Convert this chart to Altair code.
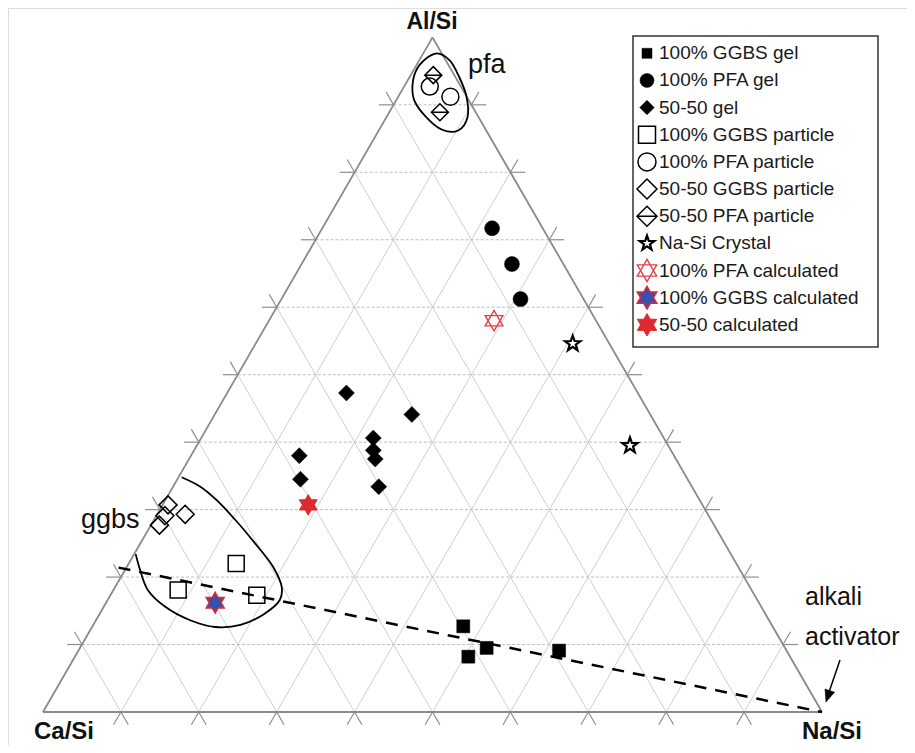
import altair as alt
import pandas as pd

# ---------------- data ----------------
# ternary composition in %: Al/Si (top apex), Na/Si (right apex); Ca/Si = 100 - Al - Na
labels = ["100% GGBS gel", "100% PFA gel", "50-50 gel", "100% GGBS particle",
          "100% PFA particle", "50-50 GGBS particle", "50-50 PFA particle",
          "Na-Si Crystal", "100% PFA calculated", "100% GGBS calculated", "50-50 calculated"]

ggbs_gel_al = [12.7, 8.2, 9.5, 9.1]
ggbs_gel_na = [47.6, 50.5, 52.2, 61.7]
pfa_gel_al = [71.7, 66.4, 61.2]
pfa_gel_na = [21.8, 27.0, 30.7]
mix_gel_al = [47.3, 44.1, 40.6, 38.8, 37.5, 38.0, 34.5, 33.4]
mix_gel_na = [15.3, 25.3, 22.1, 23.0, 23.9, 13.9, 15.8, 26.4]
ggbs_part_al = [22.0, 18.1, 17.3]
ggbs_part_na = [13.8, 8.3, 18.8]
pfa_part_al = [92.7, 91.2]
pfa_part_na = [3.3, 6.7]
mix_ggbs_part_al = [30.7, 29.3, 29.1, 27.7]
mix_ggbs_part_na = [0.7, 3.6, 1.1, 1.1]
mix_pfa_part_al = [94.4, 88.9]
mix_pfa_part_na = [2.9, 6.5]
nasi_al = [54.6, 39.5]
nasi_na = [40.7, 55.6]
pfa_calc_al = [58.0]
pfa_calc_na = [28.9]
ggbs_calc_al = [16.2]
ggbs_calc_na = [14.0]
mix_calc_al = [30.7]
mix_calc_na = [18.7]

# outline of the "pfa" region (closed) and the "ggbs" region (open)
pfa_loop_al = [97.6, 96.6, 94.2, 91.3, 88.2, 86.2, 86.3, 88.1, 90.7, 93.6, 96.0]
pfa_loop_na = [1.6, 3.9, 6.3, 8.7, 10.4, 10.2, 8.1, 5.2, 2.3, 0.7, 0.4]
ggbs_loop_al = [34.8, 33.4, 31.4, 28.2, 25.1, 21.5, 18.5, 16.6, 14.5, 12.9, 12.6, 13.6, 15.6, 18.1, 21.1, 23.4]
ggbs_loop_na = [0.4, 3.5, 6.6, 10.8, 14.6, 18.8, 21.4, 22.1, 21.1, 18.9, 15.8, 12.1, 7.9, 4.4, 1.9, 0.2]
# dashed alkali-activation line
act_al = [21.4, 0.0]
act_na = [-1.0, 100.0]

# ---------------- geometry / styling ----------------
SIDE = 779.0
W, H = 899, 737
X_MIN = -35 / SIDE
X_MAX = X_MIN + W / SIDE
Y_MAX = 704 / SIDE
Y_MIN = Y_MAX - H / SIDE
XS = alt.Scale(domain=[X_MIN, X_MAX], nice=False, zero=False)
YS = alt.Scale(domain=[Y_MIN, Y_MAX], nice=False, zero=False)
FONT = "Liberation Sans"

def xy(ch, al="al", na="na", X="X", Y="Y"):
    return ch.transform_calculate(**{
        X: f"(datum.{na} + datum.{al} / 2) / 100",
        Y: f"datum.{al} * sqrt(3) / 200"})

def seg(ch):
    return xy(xy(ch, "al1", "na1", "X", "Y"), "al2", "na2", "X2", "Y2")

ENC = dict(x=alt.X("X:Q", scale=XS, axis=None), y=alt.Y("Y:Q", scale=YS, axis=None))
SEG = dict(ENC, x2="X2:Q", y2="Y2:Q")

DIAMOND_BAR = "M0,-1L1,0L0,1L-1,0Z M-1,0L1,0"
STAR5 = ("M0,-1L0.235,-0.324L0.951,-0.309L0.38,0.124L0.588,0.809L0,0.4L-0.588,0.809"
         "L-0.38,0.124L-0.951,-0.309L-0.235,-0.324Z")
HEX_OUT = ("M0,-1L0.289,-0.5L0.866,-0.5L0.577,0L0.866,0.5L0.289,0.5L0,1L-0.289,0.5"
           "L-0.866,0.5L-0.577,0L-0.866,-0.5L-0.289,-0.5Z")
HEX_TRI = "M0,-1L0.866,0.5L-0.866,0.5Z M0,1L-0.866,-0.5L0.866,-0.5Z"
RED = "#dc2a2e"
BLUE = "#3a50b0"

series = [
    (ggbs_gel_al, ggbs_gel_na, dict(shape="square", filled=True, fill="black", stroke="black", strokeWidth=0.5), 169, 100),
    (pfa_gel_al, pfa_gel_na, dict(shape="circle", filled=True, fill="black", stroke="black", strokeWidth=0.5), 225, 196),
    (mix_gel_al, mix_gel_na, dict(shape="diamond", filled=True, fill="black", stroke="black", strokeWidth=0.5), 256, 210),
    (ggbs_part_al, ggbs_part_na, dict(shape="square", filled=False, stroke="black", strokeWidth=1.5), 256, 289),
    (pfa_part_al, pfa_part_na, dict(shape="circle", filled=False, stroke="black", strokeWidth=1.5), 289, 324),
    (mix_ggbs_part_al, mix_ggbs_part_na, dict(shape="diamond", filled=False, stroke="black", strokeWidth=1.5), 324, 400),
    (mix_pfa_part_al, mix_pfa_part_na, dict(shape=DIAMOND_BAR, filled=False, stroke="black", strokeWidth=1.5), 289, 400),
    (nasi_al, nasi_na, dict(shape=STAR5, filled=True, fill="white", stroke="black", strokeWidth=2.2), 260, 240),
    (pfa_calc_al, pfa_calc_na, dict(shape=HEX_TRI, filled=False, stroke="#e04448", strokeWidth=1.4), 420, 500),
    (ggbs_calc_al, ggbs_calc_na, dict(shape=HEX_OUT, filled=True, fill=BLUE, stroke=RED, strokeWidth=1.6), 420, 500),
    (mix_calc_al, mix_calc_na, dict(shape=HEX_OUT, filled=True, fill=RED, stroke=RED, strokeWidth=1), 420, 500),
]

# ---------------- grid, ticks, edges ----------------
E = 1.9
grid_h, grid_d, ticks = [], [], []
for k in range(1, 10):
    f = 10.0 * k
    grid_h.append(dict(al1=f, na1=0, al2=f, na2=100 - f))
    grid_d.append(dict(al1=0, na1=100 - f, al2=100 - f, na2=0))
    grid_d.append(dict(al1=0, na1=f, al2=100 - f, na2=f))
    ticks += [
        dict(al1=f, na1=0, al2=f, na2=-E),
        dict(al1=f, na1=100 - f, al2=f, na2=100 - f + E),
        dict(al1=0, na1=100 - f, al2=-E, na2=100 - f + E),
        dict(al1=100 - f, na1=0, al2=100 - f + E, na2=-E),
        dict(al1=0, na1=f, al2=-E, na2=f),
        dict(al1=100 - f, na1=f, al2=100 - f + E, na2=f),
    ]
edges = [dict(al1=100, na1=0, al2=0, na2=0), dict(al1=0, na1=0, al2=0, na2=100),
         dict(al1=0, na1=100, al2=100, na2=0)]

layers = []
layers.append(seg(alt.Chart(pd.DataFrame(grid_d)).mark_rule(color="#cfcfcf", strokeWidth=1).encode(**SEG)))
layers.append(seg(alt.Chart(pd.DataFrame(grid_h)).mark_rule(color="#bdbdbd", strokeWidth=1, strokeDash=[3, 2]).encode(**SEG)))
layers.append(seg(alt.Chart(pd.DataFrame(ticks)).mark_rule(color="#8f8f8f", strokeWidth=1.2).encode(**SEG)))
layers.append(seg(alt.Chart(pd.DataFrame(edges)).mark_rule(color="#8a8a8a", strokeWidth=1.8).encode(**SEG)))

# outlines
pfa_df = pd.DataFrame({"al": pfa_loop_al, "na": pfa_loop_na, "i": range(len(pfa_loop_al))})
ggbs_df = pd.DataFrame({"al": ggbs_loop_al, "na": ggbs_loop_na, "i": range(len(ggbs_loop_al))})
act_df = pd.DataFrame({"al": act_al, "na": act_na, "i": range(len(act_al))})
layers.append(xy(alt.Chart(pfa_df).mark_line(color="black", strokeWidth=1.8, interpolate="cardinal-closed")
                 .encode(order=alt.Order("i:Q"), **ENC)))
layers.append(xy(alt.Chart(ggbs_df).mark_line(color="black", strokeWidth=1.8, interpolate="catmull-rom")
                 .encode(order=alt.Order("i:Q"), **ENC)))
layers.append(xy(alt.Chart(act_df).mark_line(color="black", strokeWidth=2.5, strokeDash=[12, 9])
                 .encode(order=alt.Order("i:Q"), **ENC)))

# data points
for al, na, st, size, _ in series:
    df = pd.DataFrame({"al": al, "na": na})
    layers.append(xy(alt.Chart(df).mark_point(size=size, opacity=1, **st).encode(**ENC)))

# ---------------- legend ----------------
ONE = pd.DataFrame({"k": [0]})
LEG_Y0, LEG_DY = 45.3, 27.15
layers.append(alt.Chart(ONE).mark_rect(fill="white", stroke="#333333", strokeWidth=1.5).encode(
    x=alt.value(625), x2=alt.value(870), y=alt.value(28), y2=alt.value(339)))
for i, (al, na, st, _, lsize) in enumerate(series):
    layers.append(alt.Chart(ONE).mark_point(size=lsize, opacity=1, **st).encode(
        x=alt.value(639), y=alt.value(LEG_Y0 + LEG_DY * i)))
leg_df = pd.DataFrame({"label": labels, "i": range(len(labels))})
layers.append(alt.Chart(leg_df).transform_calculate(
    X=f"{X_MIN} + 651 / {SIDE}",
    Y=f"{Y_MAX} - ({LEG_Y0} + {LEG_DY} * datum.i) / {SIDE}",
).mark_text(align="left", baseline="middle", font=FONT, fontSize=19, color="#1a1a1a").encode(
    text="label:N", **ENC))

# ---------------- annotations ----------------
def label(txt, x, y, size=26, weight="normal", align="center", baseline="alphabetic"):
    return alt.Chart(ONE).mark_text(text=txt, font=FONT, fontSize=size, fontWeight=weight,
                                    align=align, baseline=baseline, color="#111111").encode(
        x=alt.value(x), y=alt.value(y))

layers += [
    label("Al/Si", 424, 21, 23, "bold"),
    label("Ca/Si", 56, 731, 24, "bold"),
    label("Na/Si", 824, 731, 24, "bold"),
    label("pfa", 460, 65, 27, align="left"),
    label("ggbs", 73, 520, 27, align="left"),
    label("alkali", 797, 597, 25, align="left"),
    label("activator", 797, 637, 25, align="left"),
]
layers.append(alt.Chart(ONE).mark_rule(color="black", strokeWidth=1.5).encode(
    x=alt.value(832), y=alt.value(652), x2=alt.value(819), y2=alt.value(690)))
layers.append(alt.Chart(ONE).mark_point(shape="M0,0L-0.42,-1L0.42,-1Z", size=576, filled=True,
                                        fill="black", stroke="black", strokeWidth=0.5,
                                        opacity=1, angle=18.4).encode(
    x=alt.value(818), y=alt.value(694)))

chart = alt.layer(*layers).properties(
    width=W, height=H, padding=0, autosize=alt.AutoSizeParams(type="none")
).configure_view(stroke=None).configure(font=FONT)

chart.save("out.html", embed_options={"renderer": "svg", "actions": False})
